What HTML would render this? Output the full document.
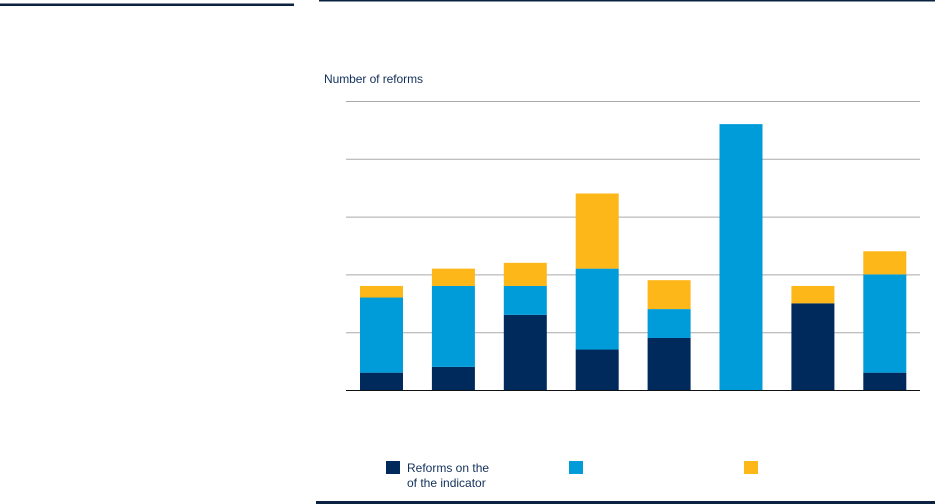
<!DOCTYPE html>
<html><head><meta charset="utf-8"><style>
body{margin:0;background:#fff;font-family:"Liberation Sans",sans-serif;}
svg{display:block}
</style></head><body>
<svg width="935" height="504" xmlns="http://www.w3.org/2000/svg">
<rect x="0" y="3.5" width="294" height="2.5" fill="#0b2340"/>
<rect x="319" y="0" width="616" height="1.5" fill="#0b2340"/>
<rect x="316" y="501" width="619" height="3" fill="#0b2340"/>
<text x="324" y="83" font-size="12" fill="#12305a" style="font-stretch:condensed" textLength="99">Number of reforms</text>
<g id="grid"></g>
<g id="bars"></g>
<line x1="346" y1="390.5" x2="920" y2="390.5" stroke="#111" stroke-width="1"/>
<g>
<rect x="386" y="461" width="14" height="13" fill="#002a5c"/>
<text x="407" y="472" font-size="12" fill="#12305a">Reforms on the</text>
<text x="407" y="487" font-size="12" fill="#12305a">of the indicator</text>
<rect x="569" y="461" width="14" height="13" fill="#009bd9"/>
<rect x="744" y="461" width="14" height="13" fill="#fdb718"/>
</g>
</svg>
<script>
const categories = ["c1","c2","c3","c4","c5","c6","c7","c8"];
const navyValues = [3,4,13,7,9,0,15,3];
const blueValues = [13,14,5,14,5,46,0,17];
const yellowValues = [2,3,4,13,5,0,3,4];
const gridTicks = [0,10,20,30,40,50];
const NS="http://www.w3.org/2000/svg";
const y0=390, pxPerUnit=5.78;
function yScale(v){return y0-v*pxPerUnit;}
function xScale(i){return 360+i*71.9;}
const bw=43;
const grid=document.getElementById('grid');
gridTicks.forEach(t=>{
  if(t===0) return;
  const l=document.createElementNS(NS,'line');
  l.setAttribute('x1',346);l.setAttribute('x2',920);
  l.setAttribute('y1',yScale(t)+0.5);l.setAttribute('y2',yScale(t)+0.5);
  l.setAttribute('stroke','#aaa');l.setAttribute('stroke-width','1');
  
  
  grid.appendChild(l);
});
const g=document.getElementById('bars');
const series=[[navyValues,'#002a5c','navy'],[blueValues,'#009bd9','blue'],[yellowValues,'#fdb718','yellow']];
categories.forEach((c,i)=>{
  let base=0;
  series.forEach(([vals,col,nm])=>{
    const v=vals[i];
    if(v>0){
      const r=document.createElementNS(NS,'rect');
      r.setAttribute('x',xScale(i));r.setAttribute('width',bw);
      r.setAttribute('y',yScale(base+v));r.setAttribute('height',yScale(base)-yScale(base+v));
      r.setAttribute('fill',col);
      
      
      g.appendChild(r);
    }
    base+=v;
  });
});
</script>
</body></html>
